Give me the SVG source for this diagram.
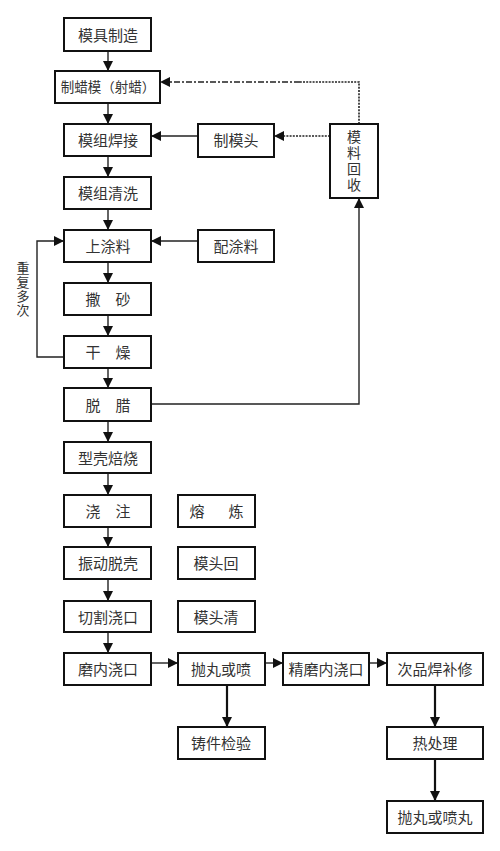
<svg xmlns="http://www.w3.org/2000/svg" width="500" height="851" viewBox="0 0 500 851">
<defs>
<style>
.box{fill:#fff;stroke:#111;stroke-width:2}
.t{font-family:"Liberation Sans","Noto Sans CJK SC",sans-serif;font-size:15px;fill:#333;text-anchor:middle;dominant-baseline:central}
.v{font-size:14px}
.s{font-size:13px}
.c{fill:none;stroke:#222;stroke-width:1.4}
.ct{fill:none;stroke:#111;stroke-width:2.2}
.dot{fill:none;stroke:#222;stroke-width:1.6;stroke-dasharray:2 1.2}
.dd{fill:none;stroke:#222;stroke-width:1.6;stroke-dasharray:6 2 2 2}
</style>
<marker id="a" viewBox="0 0 10 10" refX="10" refY="5" markerWidth="10" markerHeight="10" markerUnits="userSpaceOnUse" orient="auto">
<path d="M0,0 L10,5 L0,10 z" fill="#111"/>
</marker>
</defs>
<rect width="500" height="851" fill="#fff"/>
<g id="connectors">
<path class="c" d="M108,51 V71" marker-end="url(#a)"/>
<path class="c" d="M108,103 V124" marker-end="url(#a)"/>
<path class="c" d="M108,156 V177" marker-end="url(#a)"/>
<path class="c" d="M108,209 V230" marker-end="url(#a)"/>
<path class="c" d="M108,262 V283" marker-end="url(#a)"/>
<path class="c" d="M108,315 V336" marker-end="url(#a)"/>
<path class="c" d="M108,368 V388" marker-end="url(#a)"/>
<path class="c" d="M108,421 V442" marker-end="url(#a)"/>
<path class="c" d="M108,473 V495" marker-end="url(#a)"/>
<path class="c" d="M108,527 V547" marker-end="url(#a)"/>
<path class="c" d="M108,579 V601" marker-end="url(#a)"/>
<path class="c" d="M108,632 V653" marker-end="url(#a)"/>
<path class="c" d="M151,663 H178" marker-end="url(#a)"/>
<path class="c" d="M265,663 H283" marker-end="url(#a)"/>
<path class="c" d="M369,663 H387" marker-end="url(#a)"/>
<path class="ct" d="M227,685 V727" marker-end="url(#a)"/>
<path class="ct" d="M435,685 V727" marker-end="url(#a)"/>
<path class="ct" d="M435,759 V801" marker-end="url(#a)"/>
<path class="c" d="M198,136 H151" marker-end="url(#a)"/>
<path class="c" d="M198,241 H151" marker-end="url(#a)"/>
<path class="c" d="M64,357 H37 V241 H64" marker-end="url(#a)"/>
<path class="c" d="M151,404 H359 V198" marker-end="url(#a)"/>
<path class="dot" d="M330,136 H274" marker-end="url(#a)"/>
<path class="dot" d="M359,124 V82 H300"/>
<path class="dd" d="M300,82 H160" marker-end="url(#a)"/>
</g>
<g id="n1"><rect class="box" x="64" y="18" width="87" height="33"/><text class="t" x="108" y="35">模具制造</text></g>
<g id="n2"><rect class="box" x="55" y="71" width="105" height="32"/><text class="t" x="108" y="87" style="font-size:13.5px">制蜡模（射蜡）</text></g>
<g id="n3"><rect class="box" x="64" y="124" width="87" height="32"/><text class="t" x="108" y="140">模组焊接</text></g>
<g id="n4"><rect class="box" x="64" y="177" width="87" height="32"/><text class="t" x="108" y="193">模组清洗</text></g>
<g id="n5"><rect class="box" x="64" y="230" width="87" height="32"/><text class="t" x="108" y="246">上涂料</text></g>
<g id="n6"><rect class="box" x="64" y="283" width="87" height="32"/><text class="t" x="108" y="299">撒　砂</text></g>
<g id="n7"><rect class="box" x="64" y="336" width="87" height="32"/><text class="t" x="108" y="352">干　燥</text></g>
<g id="n8"><rect class="box" x="64" y="388" width="87" height="33"/><text class="t" x="108" y="405">脱　腊</text></g>
<g id="n9"><rect class="box" x="64" y="442" width="87" height="31"/><text class="t" x="108" y="458">型壳焙烧</text></g>
<g id="n10"><rect class="box" x="64" y="495" width="87" height="32"/><text class="t" x="108" y="511">浇　注</text></g>
<g id="n11"><rect class="box" x="64" y="547" width="87" height="32"/><text class="t" x="108" y="563">振动脱壳</text></g>
<g id="n12"><rect class="box" x="64" y="601" width="87" height="31"/><text class="t" x="108" y="617">切割浇口</text></g>
<g id="n13"><rect class="box" x="64" y="653" width="87" height="32"/><text class="t" x="108" y="669">磨内浇口</text></g>
<g id="n14"><rect class="box" x="198" y="124" width="76" height="33"/><text class="t" x="236" y="140">制模头</text></g>
<g id="n15"><rect class="box" x="198" y="230" width="76" height="32"/><text class="t" x="236" y="246">配涂料</text></g>
<g id="n16"><rect class="box" x="330" y="124" width="48" height="74"/>
<text class="t v" x="354" y="137">模</text><text class="t v" x="354" y="153">料</text><text class="t v" x="354" y="169">回</text><text class="t v" x="354" y="185">收</text></g>
<g id="n17"><rect class="box" x="178" y="495" width="77" height="32"/><text class="t" x="216" y="511"><tspan x="197">熔</tspan><tspan x="236">炼</tspan></text></g>
<g id="n18"><rect class="box" x="178" y="547" width="77" height="32"/><text class="t" x="216" y="563">模头回</text></g>
<g id="n19"><rect class="box" x="178" y="601" width="77" height="31"/><text class="t" x="216" y="617">模头清</text></g>
<g id="n20"><rect class="box" x="178" y="653" width="87" height="32"/><text class="t" x="221" y="669">抛丸或喷</text></g>
<g id="n21"><rect class="box" x="283" y="653" width="86" height="32"/><text class="t" x="326" y="669">精磨内浇口</text></g>
<g id="n22"><rect class="box" x="387" y="653" width="96" height="32"/><text class="t" x="435" y="669">次品焊补修</text></g>
<g id="n23"><rect class="box" x="178" y="727" width="87" height="32"/><text class="t" x="221" y="743">铸件检验</text></g>
<g id="n24"><rect class="box" x="387" y="727" width="96" height="32"/><text class="t" x="435" y="743">热处理</text></g>
<g id="n25"><rect class="box" x="387" y="801" width="96" height="32"/><text class="t" x="435" y="817">抛丸或喷丸</text></g>
<g id="loop-label">
<text class="t s" x="23" y="268">重</text>
<text class="t s" x="23" y="282">复</text>
<text class="t s" x="23" y="296">多</text>
<text class="t s" x="23" y="310">次</text>
</g>
</svg>
